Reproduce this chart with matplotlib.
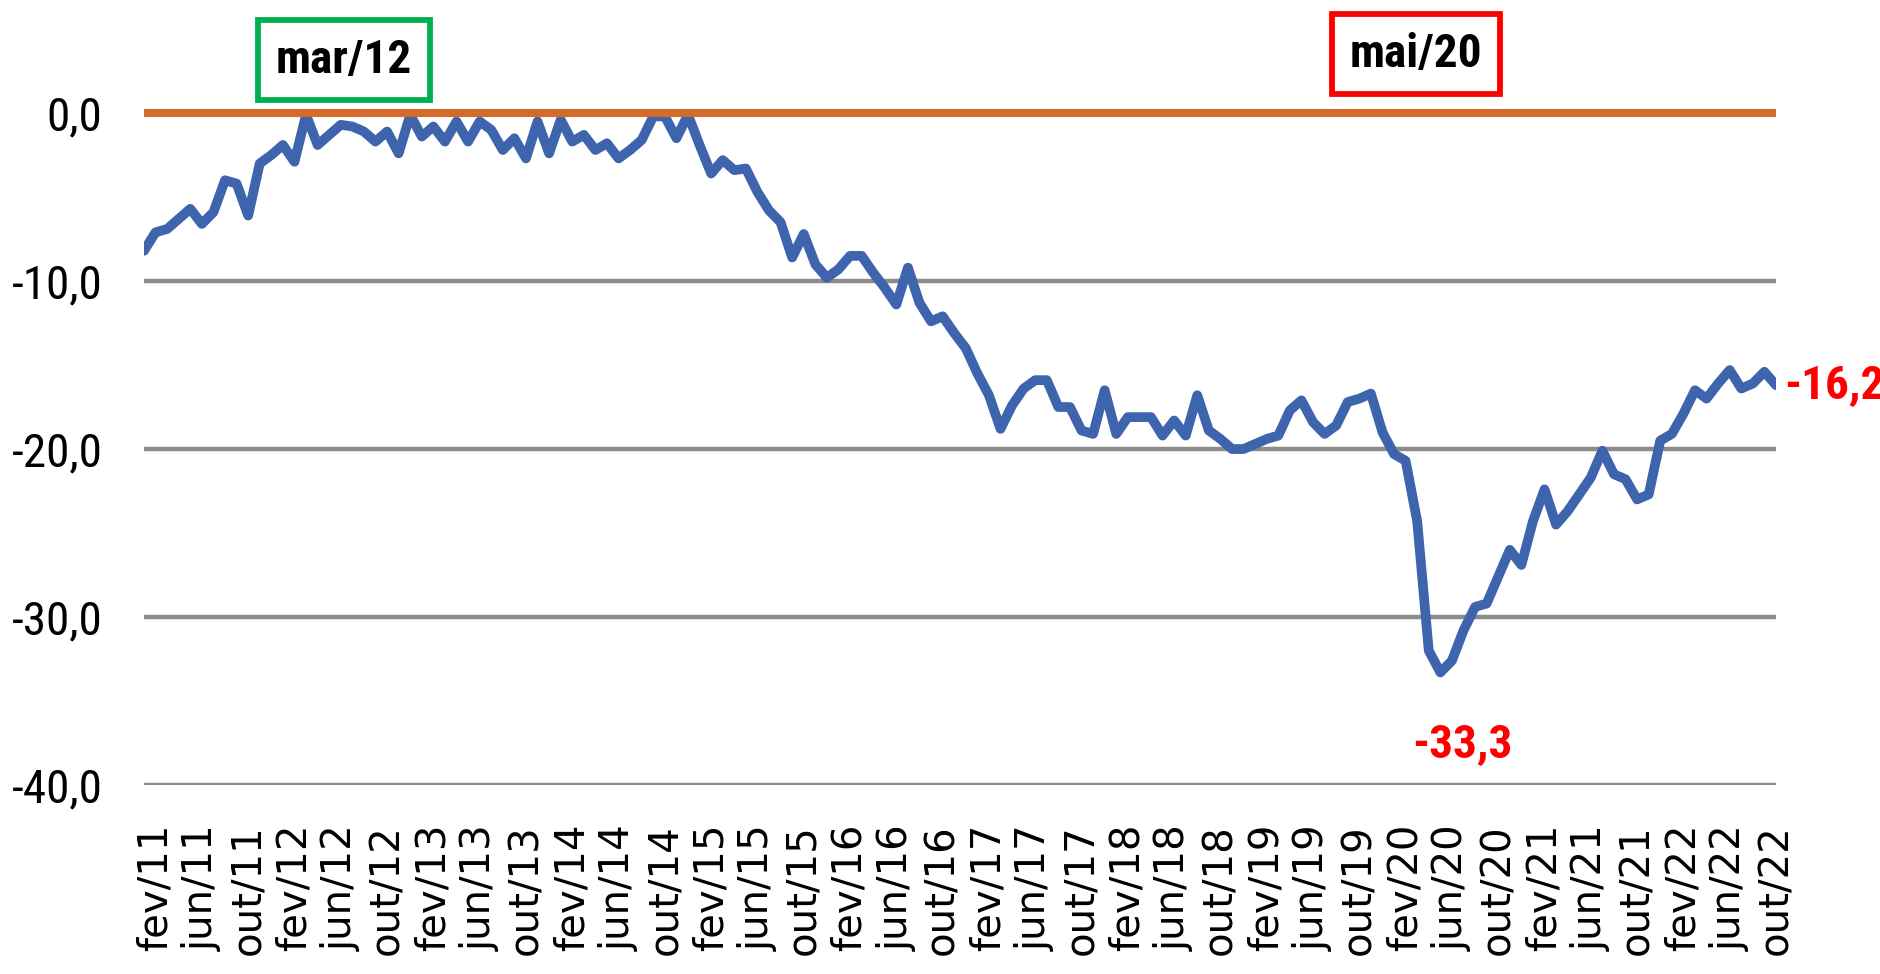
import matplotlib
matplotlib.use("Agg")
import matplotlib.pyplot as plt
from matplotlib import font_manager
import numpy as np

# monthly series, jan/11 .. out/22
valores = [-8.2, -7.1, -6.9, -6.3, -5.7, -6.6, -5.9, -4.0, -4.2, -6.1,
           -3.0, -2.5, -1.9, -2.9, -0.1, -1.9, -1.3, -0.7, -0.8, -1.1,
           -1.7, -1.1, -2.4, -0.1, -1.4, -0.8, -1.7, -0.5, -1.7, -0.5,
           -1.0, -2.2, -1.5, -2.7, -0.5, -2.4, -0.4, -1.7, -1.3, -2.2,
           -1.8, -2.7, -2.2, -1.6, -0.2, -0.2, -1.5, -0.1, -1.9, -3.6,
           -2.8, -3.4, -3.3, -4.7, -5.8, -6.5, -8.6, -7.2, -9.0, -9.8,
           -9.3, -8.5, -8.5, -9.5, -10.4, -11.4, -9.2, -11.3, -12.4, -12.1,
           -13.1, -14.0, -15.5, -16.8, -18.8, -17.4, -16.4, -15.9, -15.9, -17.5,
           -17.5, -18.9, -19.1, -16.5, -19.1, -18.1, -18.1, -18.1, -19.2, -18.3,
           -19.2, -16.8, -18.9, -19.4, -20.0, -20.0, -19.7, -19.4, -19.2, -17.7,
           -17.1, -18.4, -19.1, -18.6, -17.2, -17.0, -16.7, -19.0, -20.3, -20.7,
           -24.3, -32.0, -33.3, -32.6, -30.8, -29.4, -29.2, -27.6, -26.0, -26.9,
           -24.3, -22.4, -24.5, -23.7, -22.7, -21.7, -20.1, -21.5, -21.8, -23.0,
           -22.7, -19.5, -19.1, -17.9, -16.5, -17.0, -16.1, -15.3, -16.4, -16.1,
           -15.4, -16.2]

rotulos = ["fev/11", "jun/11", "out/11", "fev/12", "jun/12", "out/12",
           "fev/13", "jun/13", "out/13", "fev/14", "jun/14", "out/14",
           "fev/15", "jun/15", "out/15", "fev/16", "jun/16", "out/16",
           "fev/17", "jun/17", "out/17", "fev/18", "jun/18", "out/18",
           "fev/19", "jun/19", "out/19", "fev/20", "jun/20", "out/20",
           "fev/21", "jun/21", "out/21", "fev/22", "jun/22", "out/22"]

y_ticks = [0, -10, -20, -30, -40]
idx_min = 112   # mai/20
idx_max = 14    # mar/12

names = {f.name for f in font_manager.fontManager.ttflist}
narrow = next((n for n in ["Liberation Sans Narrow", "Roboto Condensed",
                           "Open Sans Condensed", "Liberation Sans"] if n in names),
              "DejaVu Sans")

x = np.arange(len(valores))

fig = plt.figure(figsize=(18.81, 9.74), dpi=100)
ax = fig.add_axes([144 / 1881, 189 / 974, 1632 / 1881, 785 / 974])

for v in y_ticks[1:]:
    ax.axhline(v, color="#8c8c8c", lw=3.2, zorder=1)

ax.plot(x, valores, color="#3d64ad", lw=7, solid_joinstyle="round",
        solid_capstyle="round", zorder=3)
ax.axhline(0, color="#d46b2b", lw=5.8, zorder=4)

ax.set_xlim(0, len(valores) - 1)
ax.set_ylim(-40, 6.73)

ax.set_yticks(y_ticks)
ax.set_yticklabels([f"{v:.1f}".replace(".", ",") for v in y_ticks],
                   fontsize=34, family=narrow)
ax.set_xticks(x[1::4])
ax.set_xticklabels(rotulos, rotation=90, fontsize=29, family="DejaVu Sans")
ax.tick_params(axis="y", length=0, pad=30)
ax.tick_params(axis="x", length=0, pad=28)
for s in ax.spines.values():
    s.set_visible(False)

# value labels
ax.annotate(f"{valores[idx_min]:.1f}".replace(".", ","), xy=(idx_min, valores[idx_min]),
            xytext=(22, -72), textcoords="offset pixels", ha="center", va="center",
            color="red", fontsize=34, fontweight="bold", family=narrow)
ax.annotate(f"{valores[-1]:.1f}".replace(".", ","), xy=(x[-1], valores[-1]),
            xytext=(8, 0), textcoords="offset pixels", ha="left", va="center",
            color="red", fontsize=34, fontweight="bold", family=narrow,
            annotation_clip=False)

# boxed month markers
fig.text(344 / 1881, 1 - 60 / 974, "mar/12", ha="center", va="center",
         fontsize=34, fontweight="bold", family=narrow,
         bbox=dict(boxstyle="square,pad=0.38", fc="white", ec="#00b050", lw=4.2))
fig.text(1416 / 1881, 1 - 54 / 974, "mai/20", ha="center", va="center",
         fontsize=34, fontweight="bold", family=narrow,
         bbox=dict(boxstyle="square,pad=0.38", fc="white", ec="#ff0000", lw=4.2))

fig.savefig("out.png", dpi=100)
